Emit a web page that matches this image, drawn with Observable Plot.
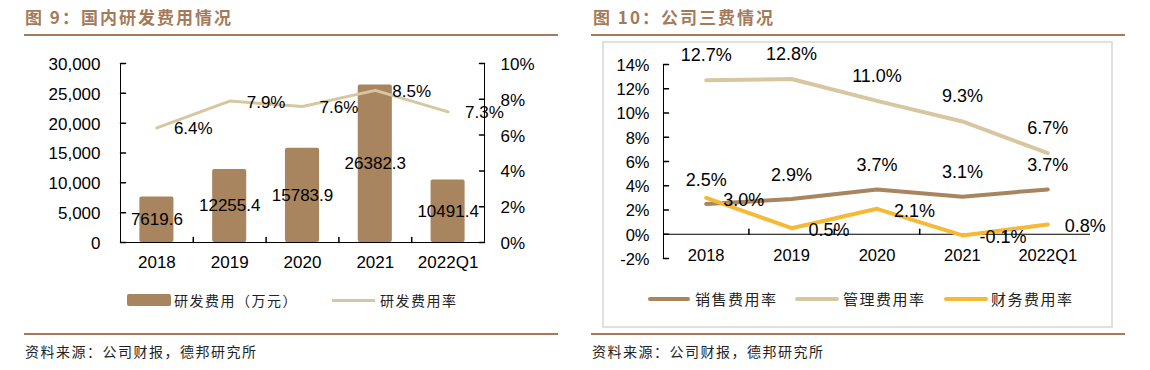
<!DOCTYPE html>
<html><head><meta charset="utf-8">
<script src="https://cdn.jsdelivr.net/npm/d3@7"></script>
<script src="https://cdn.jsdelivr.net/npm/@observablehq/plot@0.6"></script>
<style>
body{margin:0;width:1150px;height:370px;position:relative;background:#fff;overflow:hidden;font-family:"Liberation Sans",Arial,sans-serif;}
.abs{position:absolute;}
.title{font-family:"Noto Sans CJK SC",sans-serif;font-weight:bold;font-size:17px;color:#a57a5a;letter-spacing:2px;line-height:20px;white-space:nowrap;}
.rule{height:2px;background:#a57a5a;}
.cap{font-family:"Noto Sans CJK SC",sans-serif;font-size:14px;letter-spacing:1.5px;color:#222;line-height:18px;white-space:nowrap;}
.leg{font-family:"Noto Sans CJK SC",sans-serif;font-size:14px;letter-spacing:1.5px;color:#222;line-height:18px;white-space:nowrap;}
.box{border:2px solid #e0e0e0;box-sizing:border-box;}
</style></head><body>
<script>
// ---- data ----
const years = ["2018", "2019", "2020", "2021", "2022Q1"];
const rdExpense = [7619.6, 12255.4, 15783.9, 26382.3, 10491.4];
const rdRate = [6.4, 7.9, 7.6, 8.5, 7.3];
const leftTicks = [0, 5000, 10000, 15000, 20000, 25000, 30000];
const rightTicksPct = [0, 2, 4, 6, 8, 10];
const salesRate = [2.5, 2.9, 3.7, 3.1, 3.7];
const adminRate = [12.7, 12.8, 11.0, 9.3, 6.7];
const financeRate = [3.0, 0.5, 2.1, -0.1, 0.8];
const pctTicks = [-2, 0, 2, 4, 6, 8, 10, 12, 14];
const title1 = "图 9：国内研发费用情况";
const title2 = "图 10：公司三费情况";
const caption = "资料来源：公司财报，德邦研究所";
const leftLegend = ["研发费用（万元）", "研发费用率"];
const rightLegend = ["销售费用率", "管理费用率", "财务费用率"];

const barColor = "#a8855e", tan = "#d7c7a1", yellow = "#f6b936";
const idx = d3.range(years.length);
const pctToVal = 30000 / 10;
const tickShape = {draw(ctx, l) { ctx.moveTo(0, 0); ctx.lineTo(0, -l); }};
const boundaries = [0.5, 1.5, 2.5, 3.5];

function el(cls, style, text) {
  const d = document.createElement("div");
  d.className = "abs " + cls;
  Object.assign(d.style, style);
  if (text != null) d.textContent = text;
  document.body.appendChild(d);
  return d;
}

// ---- frame texts ----
el("title", {left: "25px", top: "7px"}, title1);
el("title", {left: "593px", top: "7px"}, title2);
el("rule", {left: "24px", top: "34px", width: "534px"});
el("rule", {left: "591px", top: "34px", width: "534px"});
el("box", {left: "602px", top: "41px", width: "511px", height: "287px"});
el("rule", {left: "24px", top: "333px", width: "534px"});
el("rule", {left: "591px", top: "333px", width: "534px"});
el("cap", {left: "25px", top: "342px"}, caption);
el("cap", {left: "592px", top: "342px"}, caption);

// ---- left chart ----
const leftPlot = Plot.plot({
  width: 575, height: 240,
  marginLeft: 120, marginRight: 91, marginTop: 23, marginBottom: 38,
  style: {fontSize: "17px", fontFamily: "'Liberation Sans', Arial, sans-serif", color: "#000", background: "transparent"},
  x: {type: "linear", domain: [-0.5, 4.5]},
  y: {domain: [0, 30000]},
  marks: [
    Plot.rect(idx, {x1: i => i - 0.234, x2: i => i + 0.234, y1: 0, y2: i => rdExpense[i], fill: barColor, rx: 2}),
    Plot.line(idx, {x: i => i, y: i => rdRate[i] * pctToVal, stroke: tan, strokeWidth: 3}),
    Plot.ruleY([0], {stroke: "#000"}),
    Plot.ruleX([-0.5, 4.5], {stroke: "#000"}),
    Plot.vector(leftTicks, {x: -0.5, y: d => d, rotate: 90, length: 5, anchor: "start", shape: tickShape, stroke: "#000"}),
    Plot.vector(rightTicksPct, {x: 4.5, y: d => d * pctToVal, rotate: -90, length: 5, anchor: "start", shape: tickShape, stroke: "#000"}),
    Plot.vector(boundaries, {x: d => d, y: 0, rotate: 0, length: 5, anchor: "start", shape: tickShape, stroke: "#000"}),
    Plot.axisY(leftTicks, {anchor: "left", tickSize: 0, tickPadding: 20, tickFormat: d3.format(","), fontSize: 17, dy: 1}),
    Plot.axisY(rightTicksPct.map(p => p * pctToVal), {anchor: "right", tickSize: 0, tickPadding: 16, tickFormat: v => Math.round(v / pctToVal) + "%", fontSize: 17, dy: 1}),
    Plot.axisX(idx, {anchor: "bottom", tickSize: 0, tickPadding: 20, lineAnchor: "middle", tickFormat: i => years[i], fontSize: 17}),
    Plot.text(idx, {x: i => i, y: i => rdExpense[i] / 2, text: i => rdExpense[i].toFixed(1), fontSize: 17, fill: "#000"}),
    Plot.text(idx, {x: i => i, y: i => rdRate[i] * pctToVal, text: i => rdRate[i].toFixed(1) + "%", textAnchor: "start", dx: 17, dy: 1, fontSize: 17, fill: "#000"})
  ]
});
const lw = el("", {left: "0px", top: "40px", width: "575px", height: "240px"});
lw.appendChild(leftPlot);

// ---- right chart ----
const series = [
  {name: rightLegend[0], values: salesRate, color: barColor, pos: "top", dy: -24},
  {name: rightLegend[1], values: adminRate, color: tan, pos: "top", dy: -25},
  {name: rightLegend[2], values: financeRate, color: yellow, pos: "right", dy: 2}
];
const rightMarks = [
  Plot.ruleY([0], {stroke: "#000"}),
  Plot.ruleX([-0.5], {stroke: "#000"}),
  Plot.vector(pctTicks, {x: -0.5, y: d => d, rotate: 90, length: 5, anchor: "start", shape: tickShape, stroke: "#000"}),
  Plot.vector(boundaries, {x: d => d, y: 0, rotate: 0, length: 5, anchor: "start", shape: tickShape, stroke: "#000"}),
  Plot.axisY(pctTicks, {anchor: "left", tickSize: 0, tickPadding: 14, tickFormat: d => d + "%", fontSize: 16.5, dy: 1}),
  Plot.axisX(idx, {anchor: "bottom", tickSize: 0, tickPadding: -3, lineAnchor: "middle", tickFormat: i => years[i], fontSize: 16.5})
];
for (const s of series) {
  rightMarks.push(Plot.line(idx, {x: i => i, y: i => s.values[i], stroke: s.color, strokeWidth: 4}));
}
for (const s of series) {
  rightMarks.push(Plot.text(idx, s.pos === "top"
    ? {x: i => i, y: i => s.values[i], text: i => s.values[i].toFixed(1) + "%", dy: s.dy, fontSize: 18, fill: "#000"}
    : {x: i => i, y: i => s.values[i], text: i => s.values[i].toFixed(1) + "%", textAnchor: "start", dx: 17, dy: s.dy, fontSize: 18, fill: "#000"}));
}
const rightPlot = Plot.plot({
  width: 575, height: 240,
  marginLeft: 88, marginRight: 60, marginTop: 24, marginBottom: 22,
  style: {fontSize: "16.5px", fontFamily: "'Liberation Sans', Arial, sans-serif", color: "#000", background: "transparent"},
  x: {type: "linear", domain: [-0.5, 4.5]},
  y: {domain: [-2, 14]},
  marks: rightMarks
});
const rw = el("", {left: "575px", top: "40px", width: "575px", height: "240px"});
rw.appendChild(rightPlot);

// ---- legends ----
el("", {left: "127px", top: "294px", width: "44px", height: "12px", background: barColor, borderRadius: "2px"});
el("leg", {left: "174px", top: "291px"}, leftLegend[0]);
el("", {left: "332px", top: "298.5px", width: "43px", height: "3px", background: tan});
el("leg", {left: "380px", top: "291px"}, leftLegend[1]);

const rightLegPos = [[648, 42, 695], [795, 44, 843], [943.5, 44, 991]];
series.forEach((s, k) => {
  const [x, w, tx] = rightLegPos[k];
  el("", {left: x + "px", top: "296.5px", width: w + "px", height: "4px", background: s.color, borderRadius: "2px"});
  el("leg", {left: tx + "px", top: "289.5px", fontSize: "15px"}, s.name);
});
</script>
</body></html>
